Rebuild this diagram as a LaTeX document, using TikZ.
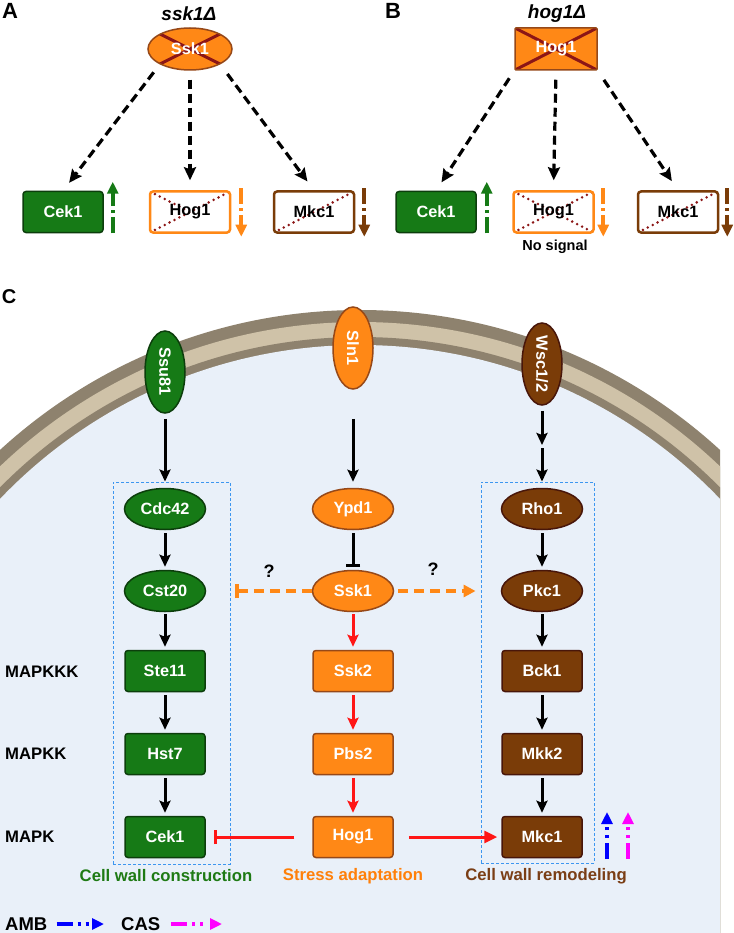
\documentclass[tikz,border=0pt]{standalone}
\usepackage{fontspec}
\usepackage{graphicx}
\setmainfont{Liberation Sans}
\usetikzlibrary{arrows.meta,positioning,shapes.geometric,calc}
\definecolor{grn}{RGB}{22,122,22}
\definecolor{grnd}{RGB}{12,62,12}
\definecolor{org}{RGB}{255,136,22}
\definecolor{orgd}{RGB}{150,72,24}
\definecolor{brn}{RGB}{122,60,8}
\definecolor{brnd}{RGB}{72,22,10}
\definecolor{grnt}{RGB}{30,122,20}
\definecolor{orgt}{RGB}{255,128,10}
\definecolor{brnt}{RGB}{122,62,22}
\definecolor{xred}{RGB}{140,22,22}
\definecolor{sigred}{RGB}{255,22,22}
\definecolor{boxblue}{RGB}{60,150,240}
\definecolor{cellbg}{RGB}{233,240,249}
\definecolor{memd}{RGB}{142,130,110}
\definecolor{meml}{RGB}{207,194,168}
\definecolor{ambc}{RGB}{0,0,255}
\definecolor{casc}{RGB}{255,0,255}

\begin{document}
\begin{tikzpicture}[x=1pt,y=-1pt,
    txt/.style={font=\fontsize{16.7}{19}\selectfont\bfseries},
    prot/.style={font=\fontsize{16.3}{18}\selectfont\bfseries,text=white,inner sep=0pt,line width=1.5pt},
    ell/.style={prot,ellipse,minimum width=81pt,minimum height=41pt},
    pbox/.style={prot,rectangle,rounded corners=3pt,minimum width=80pt,minimum height=41pt},
    gell/.style={ell,fill=grn,draw=grnd},
    oell/.style={ell,fill=org,draw=orgd},
    bell/.style={ell,fill=brn,draw=brnd},
    gbox/.style={pbox,fill=grn,draw=grnd},
    obox/.style={pbox,fill=org,draw=orgd},
    bbox/.style={pbox,fill=brn,draw=brnd},
    wbox/.style={pbox,fill=white,text=black,line width=2.5pt},
    rcpt/.style={minimum width=40pt,minimum height=82pt},
    dbox/.style={draw=boxblue,line width=0.9pt,dash pattern=on 3pt off 2pt,inner sep=0pt},
    dotx/.style={xred,line width=2.8pt,line cap=round,dash pattern=on 0pt off 5.5pt},
    xout/.style={path picture={\draw[xred,line width=3pt]
        (path picture bounding box.north west) -- (path picture bounding box.south east)
        (path picture bounding box.south west) -- (path picture bounding box.north east);}},
    fullx/.style={path picture={\draw[dotx]
        (path picture bounding box.north west) -- (path picture bounding box.south east)
        (path picture bounding box.south west) -- (path picture bounding box.north east);}},
    onex/.style={path picture={\draw[dotx]
        (path picture bounding box.south west) -- (path picture bounding box.north east);}},
    partx/.style={path picture={\draw[dotx]
        (path picture bounding box.south west) -- (path picture bounding box.north east)
        (path picture bounding box.north west) -- ($(path picture bounding box.north west)!0.45!(path picture bounding box.south east)$);}},
    arr/.style={line width=3pt,-{Stealth[length=12pt,width=11pt,inset=2pt]}},
    inh/.style={line width=3pt,-{Bar[width=14pt]}},
    darr/.style={line width=3.2pt,dash pattern=on 9pt off 5pt,-{Stealth[length=13pt,width=12pt,inset=2pt]}},
    odash/.style={org,line width=3.2pt,dash pattern=on 10pt off 6pt},
    trend/.style={line width=3.8pt,dash pattern=on 16pt off 4pt on 3pt off 4pt on 30pt off 1pt,-{Triangle[length=12pt,width=11pt]}},
    leg/.style={line width=3.8pt,dash pattern=on 16pt off 5pt on 3pt off 5pt on 3pt off 8pt,-{Triangle[length=12pt,width=11pt]}}]
  \fill[white] (0,0) rectangle (733,933);
  \useasboundingbox (0,0) rectangle (733,933);

  % cell and membrane
  \begin{scope}
    \clip (0,280) rectangle (720,933);
    \fill[memd] (360,843) circle (533);
    \fill[meml] (360,843) circle (521);
    \fill[memd] (360,843) circle (506);
    \fill[cellbg] (360,843) circle (498);
  \end{scope}

  % panel A
  \node[font=\fontsize{22}{24}\selectfont\bfseries] (la) at (10,11) {A};
  \node[font=\fontsize{19}{21}\selectfont\bfseries\itshape] (tA) at (189,14) {ssk1Δ};
  \node[oell,minimum width=84pt,minimum height=42pt,xout] (sskA) at (190,49) {Ssk1};
  \node[gbox] (cekA) at (63,212) {Cek1};
  \node[wbox,draw=org,partx] (hogA) at (190,212) {Hog1};
  \node[wbox,draw=brn,onex] (mkcA) at (314,212) {Mkc1};
  \draw[darr,shorten <=10pt,shorten >=10pt] (sskA.south west) -- (cekA.north);
  \draw[darr,shorten <=9pt,shorten >=10pt] (sskA.south) -- (hogA.north);
  \draw[darr,shorten <=12pt,shorten >=11pt] (sskA.south east) -- (mkcA.north);
  \draw[trend,grn] ([xshift=9pt]cekA.south east) -- ([xshift=9pt,yshift=9pt]cekA.north east);
  \draw[trend,org] ([xshift=10pt,yshift=2pt]hogA.north east) -- ([xshift=10pt,yshift=-3pt]hogA.south east);
  \draw[trend,brn] ([xshift=9pt,yshift=2pt]mkcA.north east) -- ([xshift=9pt,yshift=-3pt]mkcA.south east);

  % panel B
  \node[font=\fontsize{22}{24}\selectfont\bfseries] (lb) at (393,11) {B};
  \node[font=\fontsize{19}{21}\selectfont\bfseries\itshape] (tB) at (557,14) {hog1Δ};
  \node[obox,minimum width=82pt,minimum height=42pt,rounded corners=1pt,xout] (hogB) at (556,49) {Hog1};
  \node[gbox] (cekB) at (436,212) {Cek1};
  \node[wbox,draw=org,fullx] (hogwB) at (553.5,212) {Hog1};
  \node[wbox,draw=brn,onex] (mkcB) at (678,212) {Mkc1};
  \node[font=\fontsize{14.5}{16}\selectfont\bfseries] (nosig) at (555,247) {No signal};
  \draw[darr,shorten <=9pt,shorten >=10pt] (hogB.south west) -- (cekB.north);
  \draw[darr,shorten <=9pt,shorten >=10pt] (hogB.south) -- (hogwB.north);
  \draw[darr,shorten <=11pt,shorten >=11pt] (hogB.south east) -- (mkcB.north);
  \draw[trend,grn] ([xshift=10pt]cekB.south east) -- ([xshift=10pt,yshift=9pt]cekB.north east);
  \draw[trend,org] ([xshift=8.5pt,yshift=2pt]hogwB.north east) -- ([xshift=8.5pt,yshift=-3pt]hogwB.south east);
  \draw[trend,brn] ([xshift=8pt,yshift=2pt]mkcB.north east) -- ([xshift=8pt,yshift=-3pt]mkcB.south east);

  % panel C
  \node[font=\fontsize{20}{22}\selectfont\bfseries] (lc) at (9,297) {C};
  \node[dbox,minimum width=117pt,minimum height=382pt] (lbox) at (171.5,673) {};
  \node[dbox,minimum width=113pt,minimum height=381pt] (rbox) at (537.5,672.5) {};

  \node[gell,rcpt] (ssu) at (165,372) {\rotatebox{-90}{Ssu81}};
  \node[oell,rcpt] (sln) at (353,348) {\rotatebox{-90}{Sln1}};
  \node[bell,rcpt] (wsc) at (542,364) {\rotatebox{-90}{Wsc1/2}};
  \coordinate (wmid) at (542,446);

  \node[gell] (cdc) at (165,509) {Cdc42};
  \node[oell] (ypd) at (353,509) {Ypd1};
  \node[bell] (rho) at (542,509) {Rho1};
  \node[gell] (cst) at (165,591) {Cst20};
  \node[oell] (ssk) at (353,591) {Ssk1};
  \node[bell] (pkc) at (542,591) {Pkc1};
  \node[gbox] (ste) at (165,671) {Ste11};
  \node[obox] (ssk2) at (353,671) {Ssk2};
  \node[bbox] (bck) at (542,671) {Bck1};
  \node[gbox] (hst) at (165,754) {Hst7};
  \node[obox] (pbs) at (353,754) {Pbs2};
  \node[bbox] (mkk) at (542,754) {Mkk2};
  \node[gbox] (cek) at (165,837) {Cek1};
  \node[obox] (hog) at (353,837) {Hog1};
  \node[bbox] (mkc) at (542,837) {Mkc1};

  \node[txt,anchor=west,inner sep=0pt] (kkk) at (5,672) {MAPKKK};
  \node[txt,anchor=west,inner sep=0pt] (kk) at (5,754) {MAPKK};
  \node[txt,anchor=west,inner sep=0pt] (k) at (5,837) {MAPK};
  \node[txt,text=grnt] (cwc) at (166,876) {Cell wall construction};
  \node[txt,text=orgt] (sad) at (353,876) {Stress adaptation};
  \node[txt,text=brnt] (cwr) at (546,876) {Cell wall remodeling};
  \node[font=\fontsize{18}{20}\selectfont\bfseries] (q1) at (269,571) {?};
  \node[font=\fontsize{18}{20}\selectfont\bfseries] (q2) at (433,569) {?};

  \draw[arr,shorten <=5pt] (ssu.south) -- (ssu.south |- lbox.north);
  \draw[arr,shorten <=29pt,shorten >=6pt] (sln.south) -- (ypd.north);
  \draw[arr,shorten <=5pt,shorten >=1pt] (wsc.south) -- (wmid);
  \draw[arr,shorten <=2pt] (wmid) -- (wmid |- rbox.north);

  \draw[arr,shorten <=3pt,shorten >=3pt] (cdc.south) -- (cst.north);
  \draw[arr,shorten <=2pt,shorten >=3pt] (cst.south) -- (ste.north);
  \draw[arr,shorten <=3pt,shorten >=3pt] (ste.south) -- (hst.north);
  \draw[arr,shorten <=3pt,shorten >=3pt] (hst.south) -- (cek.north);
  \draw[inh,shorten <=3pt,shorten >=3pt] (ypd.south) -- (ssk.north);
  \draw[arr,sigred,shorten <=2pt,shorten >=3pt] (ssk.south) -- (ssk2.north);
  \draw[arr,sigred,shorten <=3pt,shorten >=3pt] (ssk2.south) -- (pbs.north);
  \draw[arr,sigred,shorten <=3pt,shorten >=3pt] (pbs.south) -- (hog.north);
  \draw[arr,shorten <=3pt,shorten >=3pt] (rho.south) -- (pkc.north);
  \draw[arr,shorten <=2pt,shorten >=3pt] (pkc.south) -- (bck.north);
  \draw[arr,shorten <=3pt,shorten >=3pt] (bck.south) -- (mkk.north);
  \draw[arr,shorten <=3pt,shorten >=3pt] (mkk.south) -- (mkc.north);

  \draw[odash,-{Bar[width=14pt]},shorten >=5pt] (ssk.west) -- (lbox.east |- ssk.west);
  \draw[odash,-{Triangle[length=12pt,width=12pt]},shorten <=4pt,shorten >=5pt] (ssk.east) -- (rbox.west |- ssk.east);
  \draw[inh,sigred,shorten <=18pt,shorten >=8pt] (hog.west) -- (cek.east);
  \draw[arr,sigred,-{Triangle[length=13pt,width=12pt]},shorten <=15pt,shorten >=4pt] (hog.east) -- (mkc.west);

  \coordinate (amb0) at (607,859);
  \coordinate (amb1) at (607,812);
  \coordinate (cas0) at (628,859);
  \coordinate (cas1) at (628,812);
  \draw[leg,ambc] (amb0) -- (amb1);
  \draw[leg,casc] (cas0) -- (cas1);

  % legend
  \node[font=\fontsize{18.5}{20}\selectfont\bfseries,anchor=west,inner sep=0pt] (amb) at (5,924) {AMB};
  \node[font=\fontsize{18.5}{20}\selectfont\bfseries,anchor=west,inner sep=0pt] (cas) at (121,924) {CAS};
  \coordinate (ambe) at (104,924);
  \coordinate (case) at (222,924);
  \draw[leg,ambc,shorten <=9pt] (amb.east) -- (ambe);
  \draw[leg,casc,shorten <=11pt] (cas.east) -- (case);
\end{tikzpicture}
\end{document}
